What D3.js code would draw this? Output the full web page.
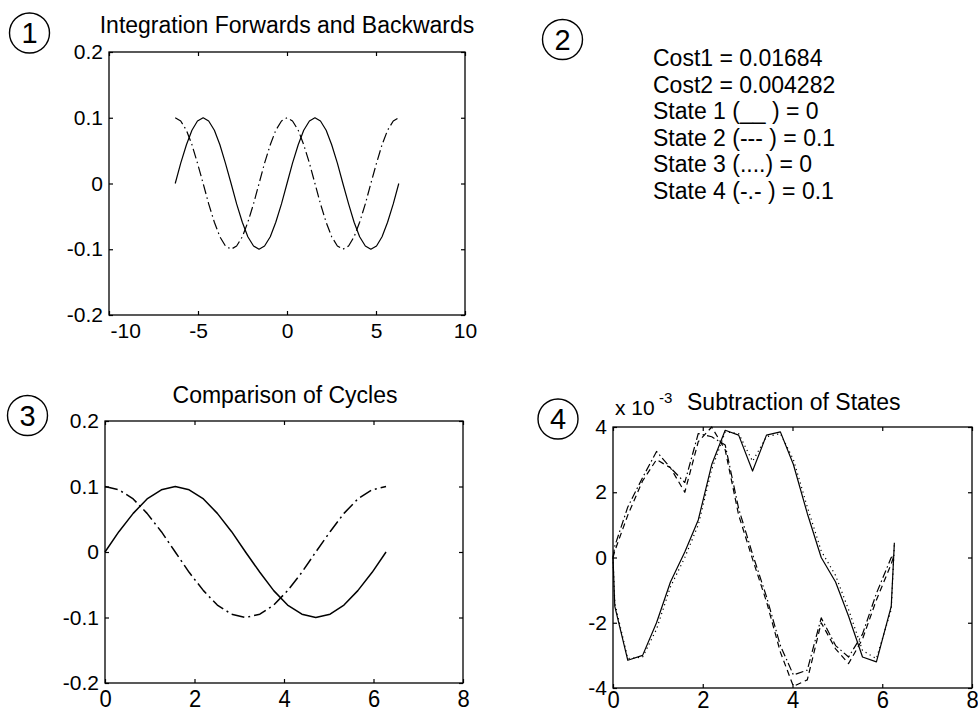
<!DOCTYPE html>
<html>
<head>
<meta charset="utf-8">
<script src="https://cdn.jsdelivr.net/npm/d3@7"></script>
<style>
  body { margin: 0; background: #fff; }
  svg { display: block; }
  text { font-family: "Liberation Sans", Arial, Helvetica, sans-serif; fill: #000; }
</style>
</head>
<body>
<svg id="fig" width="978" height="714"></svg>
<script>
// ---- Panel 1: integration forwards and backwards, t in [-2pi, 2pi] ----
const fbTime = [-6.28, -5.97, -5.65, -5.34, -5.03, -4.71, -4.40, -4.08, -3.77, -3.46, -3.14,
  -2.83, -2.51, -2.20, -1.88, -1.57, -1.26, -0.94, -0.63, -0.31, 0,
  0.31, 0.63, 0.94, 1.26, 1.57, 1.88, 2.20, 2.51, 2.83, 3.14,
  3.46, 3.77, 4.08, 4.40, 4.71, 5.03, 5.34, 5.65, 5.97, 6.28];
const fbState1 = [0, 0.031, 0.059, 0.081, 0.095, 0.1, 0.095, 0.081, 0.059, 0.031, 0,
  -0.031, -0.059, -0.081, -0.095, -0.1, -0.095, -0.081, -0.059, -0.031, 0,
  0.031, 0.059, 0.081, 0.095, 0.1, 0.095, 0.081, 0.059, 0.031, 0,
  -0.031, -0.059, -0.081, -0.095, -0.1, -0.095, -0.081, -0.059, -0.031, 0];
const fbState2 = [0.1, 0.095, 0.081, 0.059, 0.031, 0, -0.031, -0.059, -0.081, -0.095, -0.1,
  -0.095, -0.081, -0.059, -0.031, 0, 0.031, 0.059, 0.081, 0.095, 0.1,
  0.095, 0.081, 0.059, 0.031, 0, -0.031, -0.059, -0.081, -0.095, -0.1,
  -0.095, -0.081, -0.059, -0.031, 0, 0.031, 0.059, 0.081, 0.095, 0.1];
const fbXTicks = [-10, -5, 0, 5, 10];
const fbYTicks = [-0.2, -0.1, 0, 0.1, 0.2];

// ---- Panel 2: summary text ----
const summaryLines = [
  "Cost1 = 0.01684",
  "Cost2 = 0.004282",
  "State 1 (__  ) = 0",
  "State 2 (--- ) = 0.1",
  "State 3 (....) = 0",
  "State 4 (-.- ) = 0.1"
];

// ---- Panel 3: one cycle, t in [0, 2pi] ----
const cycTime = [0, 0.31, 0.63, 0.94, 1.26, 1.57, 1.88, 2.20, 2.51, 2.83, 3.14,
  3.46, 3.77, 4.08, 4.40, 4.71, 5.03, 5.34, 5.65, 5.97, 6.28];
const cycState1 = [0, 0.031, 0.059, 0.081, 0.095, 0.1, 0.095, 0.081, 0.059, 0.031, 0,
  -0.031, -0.059, -0.081, -0.095, -0.1, -0.095, -0.081, -0.059, -0.031, 0];
const cycState2 = [0.1, 0.095, 0.081, 0.059, 0.031, 0, -0.031, -0.059, -0.081, -0.095, -0.1,
  -0.095, -0.081, -0.059, -0.031, 0, 0.031, 0.059, 0.081, 0.095, 0.1];
const cycXTicks = [0, 2, 4, 6, 8];
const cycYTicks = [-0.2, -0.1, 0, 0.1, 0.2];

// ---- Panel 4: state differences (x 10^-3) ----
const diffTime = [0, 0.04, 0.33, 0.66, 0.97, 1.28, 1.6, 1.9, 2.2, 2.5, 2.8, 3.11,
  3.42, 3.73, 4.02, 4.33, 4.64, 4.96, 5.25, 5.56, 5.87, 6.2, 6.27];
const diffState1 = [0, -1.5, -3.15, -3.0, -2.0, -0.75, 0.17, 1.15, 2.85, 3.9, 3.75, 2.65,
  3.75, 3.85, 2.85, 1.35, 0.0, -0.75, -1.8, -3.05, -3.2, -1.5, 0.45];
const diffState3 = [0, -1.4, -3.1, -3.05, -2.2, -0.9, 0.0, 1.0, 2.7, 3.85, 3.8, 2.95,
  3.7, 3.8, 3.0, 1.55, 0.2, -0.55, -1.6, -2.85, -3.1, -1.6, 0.4];
const diffState2 = [0, 0.2, 1.3, 2.35, 3.0, 2.75, 2.0, 3.55, 4.0, 3.3, 1.3, -0.05,
  -1.35, -2.9, -3.95, -3.75, -2.0, -2.8, -3.25, -2.5, -1.3, -0.2, 0.1];
const diffState4 = [0, 0.35, 1.55, 2.45, 3.25, 2.75, 2.3, 3.8, 3.7, 3.45, 1.5, 0.1,
  -1.2, -2.7, -3.6, -3.45, -1.85, -2.7, -3.05, -2.35, -1.1, 0.0, 0.05];
const diffXTicks = [0, 2, 4, 6, 8];
const diffYTicks = [-4, -2, 0, 2, 4];

const svg = d3.select("#fig");
const TICK_FONT = 21;
const TICK_LEN = 4;

// Plain ASCII hyphen for negative tick labels
const locale = d3.formatLocale({ decimal: ".", thousands: ",", grouping: [3], currency: ["", ""], minus: "-" });
const fmtInt = locale.format("d");
const fmtTenths = d => d === 0 ? "0" : locale.format(".1f")(d);

function drawAxes(cfg) {
  const g = svg.append("g");
  const x = d3.scaleLinear().domain(cfg.xDomain).range([cfg.left, cfg.right]);
  const y = d3.scaleLinear().domain(cfg.yDomain).range([cfg.bottom, cfg.top]);

  const styleAxis = sel => {
    sel.select(".domain").remove();
    sel.selectAll("line").attr("stroke", "#000").attr("stroke-width", 1.2);
    sel.selectAll("text").attr("font-size", TICK_FONT)
      .attr("font-family", '"Liberation Sans", Arial, sans-serif').attr("fill", "#000");
    sel.attr("font-family", null).attr("font-size", null);
  };

  const xb = g.append("g").attr("transform", `translate(0,${cfg.bottom})`)
    .call(d3.axisBottom(x).tickValues(cfg.xTicks).tickSize(-TICK_LEN).tickSizeOuter(0)
      .tickPadding(8).tickFormat(fmtInt));
  styleAxis(xb);
  if (cfg.xLabelStretch) {
    // taller digits along the bottom axis, baseline kept just below the box
    xb.selectAll(".tick text")
      .attr("font-size", 22)
      .attr("y", 0).attr("dy", null)
      .attr("transform", `translate(0,${cfg.xLabelBaseline}) scale(1,${cfg.xLabelStretch})`);
  }
  if (cfg.firstXStart) {
    xb.selectAll(".tick text").filter((d, i) => i === 0)
      .attr("text-anchor", "start").attr("x", 1);
  }
  g.append("g").attr("transform", `translate(0,${cfg.top})`)
    .call(d3.axisTop(x).tickValues(cfg.xTicks).tickSize(-TICK_LEN).tickSizeOuter(0).tickFormat(""))
    .call(styleAxis);
  g.append("g").attr("transform", `translate(${cfg.left},0)`)
    .call(d3.axisLeft(y).tickValues(cfg.yTicks).tickSize(-TICK_LEN).tickSizeOuter(0)
      .tickPadding(6).tickFormat(cfg.yFormat))
    .call(styleAxis);
  g.append("g").attr("transform", `translate(${cfg.right},0)`)
    .call(d3.axisRight(y).tickValues(cfg.yTicks).tickSize(-TICK_LEN).tickSizeOuter(0).tickFormat(""))
    .call(styleAxis);

  g.append("rect")
    .attr("x", cfg.left).attr("y", cfg.top)
    .attr("width", cfg.right - cfg.left).attr("height", cfg.bottom - cfg.top)
    .attr("fill", "none").attr("stroke", "#000").attr("stroke-width", 1.3);

  cfg.series.forEach(s => {
    const line = d3.line().x((d, i) => x(s.t[i])).y(d => y(d));
    g.append("path").datum(s.values)
      .attr("d", line)
      .attr("fill", "none")
      .attr("stroke", "#000")
      .attr("stroke-width", s.width || 1.2)
      .attr("stroke-dasharray", s.dash || null)
      .attr("stroke-linejoin", "round");
  });
  return g;
}

// Panel 1
drawAxes({
  left: 109, right: 465, top: 52, bottom: 315,
  xDomain: [-10, 10], yDomain: [-0.2, 0.2],
  xTicks: fbXTicks, yTicks: fbYTicks, yFormat: fmtTenths, firstXStart: true,
  series: [
    { t: fbTime, values: fbState1 },
    { t: fbTime, values: fbState2, dash: "10,3.5,1.5,3.5" }
  ]
});
svg.append("text").attr("x", 287).attr("y", 33).attr("text-anchor", "middle")
  .attr("font-size", 23).text("Integration Forwards and Backwards");

// Panel 2
svg.append("g").selectAll("text").data(summaryLines).join("text")
  .attr("x", 653)
  .attr("y", (d, i) => 66 + i * 26.6)
  .attr("font-size", 23)
  .text(d => d);

// Panel 3
drawAxes({
  left: 105, right: 463, top: 421, bottom: 683,
  xDomain: [0, 8], yDomain: [-0.2, 0.2],
  xTicks: cycXTicks, yTicks: cycYTicks, yFormat: fmtTenths,
  xLabelStretch: 1.1, xLabelBaseline: 24,
  series: [
    { t: cycTime, values: cycState1, width: 1.5 },
    { t: cycTime, values: cycState2, dash: "13,4,2,4", width: 1.5 }
  ]
});
svg.append("text").attr("x", 285).attr("y", 403).attr("text-anchor", "middle")
  .attr("font-size", 23).text("Comparison of Cycles");

// Panel 4
drawAxes({
  left: 613, right: 972, top: 427, bottom: 688,
  xDomain: [0, 8], yDomain: [-4, 4],
  xTicks: diffXTicks, yTicks: diffYTicks, yFormat: fmtInt,
  xLabelStretch: 1.1, xLabelBaseline: 20,
  series: [
    { t: diffTime, values: diffState1 },
    { t: diffTime, values: diffState3, dash: "1.2,3.5" },
    { t: diffTime, values: diffState2, dash: "6,4" },
    { t: diffTime, values: diffState4, dash: "8,3,1.5,3" }
  ]
});
svg.append("text").attr("x", 615).attr("y", 415).attr("font-size", 21).text("x 10");
svg.append("text").attr("x", 659).attr("y", 403).attr("font-size", 15).text("-3");
svg.append("text").attr("x", 687).attr("y", 410).attr("font-size", 23).text("Subtraction of States");

// Circled panel numbers
const badges = [
  { n: "1", cx: 29.5, cy: 33 },
  { n: "2", cx: 562.5, cy: 39.5 },
  { n: "3", cx: 27.5, cy: 415.5 },
  { n: "4", cx: 558, cy: 419 }
];
const bg = svg.append("g");
bg.selectAll("circle").data(badges).join("circle")
  .attr("cx", d => d.cx).attr("cy", d => d.cy).attr("r", 20)
  .attr("fill", "none").attr("stroke", "#000").attr("stroke-width", 1.4);
bg.selectAll("text").data(badges).join("text")
  .attr("x", d => d.cx).attr("y", d => d.cy + 10)
  .attr("text-anchor", "middle")
  .attr("font-family", '"Liberation Serif", "Times New Roman", serif')
  .attr("font-size", 29)
  .text(d => d.n);
</script>
</body>
</html>
